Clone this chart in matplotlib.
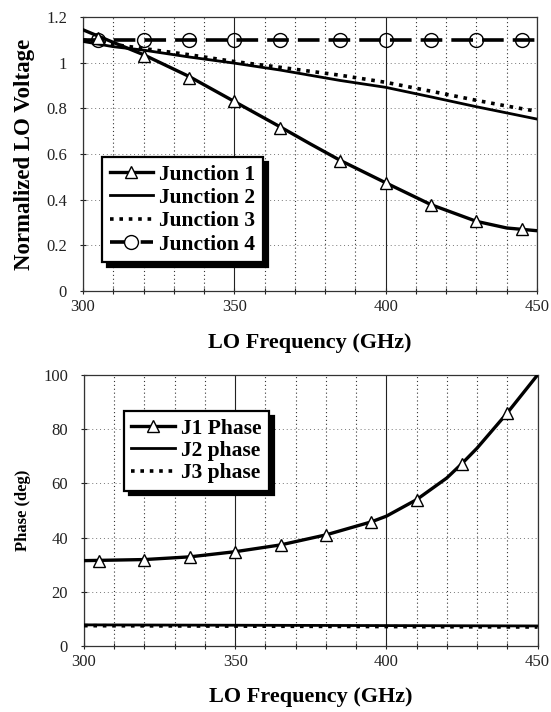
import numpy as np
import matplotlib.pyplot as plt
from matplotlib.ticker import MultipleLocator

plt.rcParams['font.family'] = ['Liberation Serif', 'DejaVu Serif']

# ---- top panel: normalized LO voltage ----
freq_j1 = [300, 310, 320, 335, 350, 365, 375, 385, 400, 415, 430, 440, 450]
volt_j1 = [1.144, 1.089, 1.035, 0.94, 0.83, 0.72, 0.645, 0.572, 0.474, 0.378, 0.305, 0.276, 0.264]
mk_freq = [305, 320, 335, 350, 365, 385, 400, 415, 430, 445]
mk_j1 = [1.11, 1.03, 0.935, 0.83, 0.715, 0.57, 0.474, 0.378, 0.305, 0.27]

freq_j23 = [300, 310, 320, 335, 350, 365, 385, 400, 415, 430, 440, 450]
volt_j2 = [1.093, 1.07, 1.055, 1.025, 0.998, 0.968, 0.922, 0.892, 0.85, 0.807, 0.78, 0.753]
volt_j3 = [1.1, 1.08, 1.062, 1.035, 1.005, 0.98, 0.945, 0.914, 0.875, 0.835, 0.81, 0.787]

freq_j4 = [300, 450]
volt_j4 = [1.1, 1.1]
mk_j4 = [1.1] * len(mk_freq)

# ---- bottom panel: phase ----
freq_p1 = [300, 320, 335, 350, 365, 380, 395, 400, 410, 420, 425, 430, 440, 445, 450]
phase_j1 = [31.5, 31.9, 32.9, 34.8, 37.3, 41.0, 45.8, 47.9, 54.0, 62.0, 67.3, 73.0, 86.0, 93.0, 100.0]
mk_pfreq = [305, 320, 335, 350, 365, 380, 395, 410, 425, 440]
mk_phase = [31.4, 31.9, 32.9, 34.8, 37.3, 41.0, 45.8, 54.0, 67.3, 86.0]

freq_p23 = [300, 450]
phase_j2 = [7.8, 7.4]
phase_j3 = [7.5, 7.0]

fig = plt.figure(figsize=(5.51, 7.12), dpi=100)
ax1 = fig.add_axes([0.1506, 0.5913, 0.824, 0.3848])
ax2 = fig.add_axes([0.1525, 0.0927, 0.823, 0.3806])


def style_axes(ax):
    ax.set_xlim(300, 450)
    ax.xaxis.set_major_locator(MultipleLocator(50))
    ax.xaxis.set_minor_locator(MultipleLocator(10))
    ax.grid(which='minor', axis='x', linestyle=(0, (1, 2.5)), color='#333333', linewidth=0.8)
    ax.grid(which='major', axis='x', linestyle='-', color='#222222', linewidth=0.8)
    ax.grid(which='major', axis='y', linestyle=(0, (1, 3)), color='#777777', linewidth=0.7)
    ax.tick_params(which='both', direction='inout', length=5, width=0.8, labelsize=12,
                   colors='#222222')
    ax.tick_params(axis='y', pad=9)
    for s in ax.spines.values():
        s.set_linewidth(0.9)
        s.set_color('#333333')
    ax.set_axisbelow(True)


style_axes(ax1)
ax1.set_ylim(0, 1.2)
ax1.yaxis.set_major_locator(MultipleLocator(0.2))
ax1.yaxis.set_major_formatter(plt.FuncFormatter(lambda v, p: ('%g' % round(v, 1))))

tri = dict(marker='^', ms=8, mfc='white', mec='black', mew=1.0)
circ = dict(marker='o', ms=10, mec='black', mew=1.0)

ax1.plot(freq_j1, volt_j1, color='black', lw=2.4, zorder=3)
ax1.plot(mk_freq, mk_j1, linestyle='none', zorder=4, **tri)
ax1.plot(freq_j23, volt_j2, color='black', lw=2.0, zorder=3)
ax1.plot(freq_j23, volt_j3, color='black', lw=2.6, linestyle=(0, (1, 1.6)), zorder=3)
ax1.plot(freq_j4, volt_j4, color='black', lw=2.6, linestyle=(0, (6, 2.5)), zorder=3)
ax1.plot(mk_freq, mk_j4, linestyle='none', mfc='none', zorder=4, **circ)

h1 = [
    plt.Line2D([], [], color='black', lw=2.4, **tri),
    plt.Line2D([], [], color='black', lw=2.0),
    plt.Line2D([], [], color='black', lw=2.6, linestyle=(0, (1, 1.6))),
    plt.Line2D([], [], color='black', lw=2.6, linestyle=(0, (6, 2.5)), mfc='white', **circ),
]
leg1 = ax1.legend(h1, ['Junction 1', 'Junction 2', 'Junction 3', 'Junction 4'],
                  loc='upper left', bbox_to_anchor=(0.042, 0.489), borderaxespad=0,
                  fancybox=False, framealpha=1, edgecolor='black',
                  shadow={'color': 'black', 'alpha': 1, 'ox': 3.5, 'oy': -3.5},
                  prop={'weight': 'bold', 'size': 15.5}, handlelength=2.0,
                  handletextpad=0.3, labelspacing=0.15, borderpad=0.35)
leg1.get_frame().set_linewidth(1.6)

ax1.set_xlabel('LO Frequency (GHz)', fontsize=16, fontweight='bold', labelpad=13)
ax1.set_ylabel('Normalized LO Voltage', fontsize=16.5, fontweight='bold', labelpad=8)

style_axes(ax2)
ax2.set_ylim(0, 100)
ax2.yaxis.set_major_locator(MultipleLocator(20))

ax2.plot(freq_p1, phase_j1, color='black', lw=2.4, zorder=3)
ax2.plot(mk_pfreq, mk_phase, linestyle='none', zorder=4, **tri)
ax2.plot(freq_p23, phase_j2, color='black', lw=2.0, zorder=3)
ax2.plot(freq_p23, phase_j3, color='black', lw=2.6, linestyle=(0, (1, 1.6)), zorder=3)

h2 = [
    plt.Line2D([], [], color='black', lw=2.4, **tri),
    plt.Line2D([], [], color='black', lw=2.0),
    plt.Line2D([], [], color='black', lw=2.6, linestyle=(0, (1, 1.6))),
]
leg2 = ax2.legend(h2, ['J1 Phase', 'J2 phase', 'J3 phase'],
                  loc='upper left', bbox_to_anchor=(0.088, 0.867), borderaxespad=0,
                  fancybox=False, framealpha=1, edgecolor='black',
                  shadow={'color': 'black', 'alpha': 1, 'ox': 3.5, 'oy': -3.5},
                  prop={'weight': 'bold', 'size': 15.5}, handlelength=2.0,
                  handletextpad=0.3, labelspacing=0.1, borderpad=0.35)
leg2.get_frame().set_linewidth(1.6)

ax2.set_xlabel('LO Frequency (GHz)', fontsize=16, fontweight='bold', labelpad=12)
ax2.set_ylabel('Phase (deg)', fontsize=12, fontweight='bold', labelpad=9)

fig.savefig('out.png', dpi=100)
